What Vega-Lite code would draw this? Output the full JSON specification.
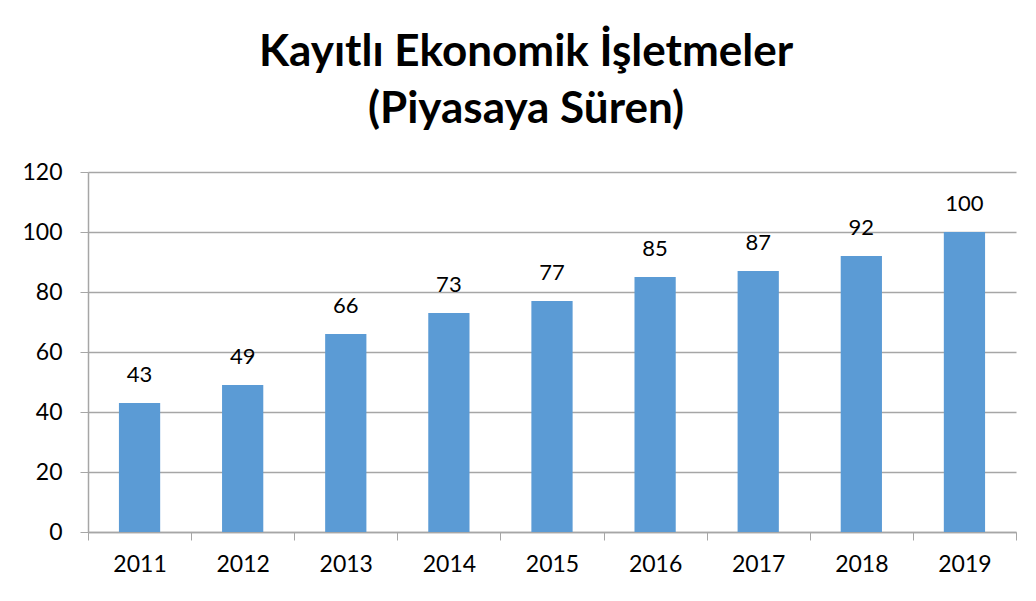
{
  "$schema": "https://vega.github.io/schema/vega-lite/v6.json",
  "autosize": "none",
  "width": 928,
  "height": 360,
  "padding": {"left": 88, "top": 172, "right": 20, "bottom": 69},
  "background": "white",
  "config": {"view": {"stroke": null}, "font": "Lato"},
  "title": {
    "text": ["Kayıtlı Ekonomik İşletmeler", "(Piyasaya Süren)"],
    "font": "Lato",
    "fontSize": 44,
    "fontWeight": "bold",
    "color": "#000000",
    "anchor": "middle",
    "frame": "group",
    "dx": -26,
    "lineHeight": 57,
    "offset": 29
  },
  "data": {
    "values": [
      {"year": "2011", "value": 43},
      {"year": "2012", "value": 49},
      {"year": "2013", "value": 66},
      {"year": "2014", "value": 73},
      {"year": "2015", "value": 77},
      {"year": "2016", "value": 85},
      {"year": "2017", "value": 87},
      {"year": "2018", "value": 92},
      {"year": "2019", "value": 100}
    ]
  },
  "encoding": {
    "x": {
      "field": "year",
      "type": "nominal",
      "sort": null,
      "scale": {"paddingInner": 0, "paddingOuter": 0},
      "axis": {
        "title": null,
        "labelAngle": 0,
        "labelFont": "Lato",
        "labelFontSize": 23,
        "labelColor": "#000000",
        "labelPadding": 13,
        "tickBand": "extent",
        "tickSize": 8,
        "tickColor": "#A6A6A6",
        "domainColor": "#A6A6A6",
        "domainWidth": 1.5,
        "grid": false
      }
    },
    "y": {
      "field": "value",
      "type": "quantitative",
      "scale": {"domain": [0, 120], "nice": false},
      "axis": {
        "title": null,
        "values": [0, 20, 40, 60, 80, 100, 120],
        "labelFont": "Lato",
        "labelFontSize": 23,
        "labelColor": "#000000",
        "labelPadding": 18,
        "tickSize": 8,
        "tickColor": "#A6A6A6",
        "domainColor": "#A6A6A6",
        "domainWidth": 1.5,
        "grid": true,
        "gridColor": "#A6A6A6",
        "gridWidth": 1.5
      }
    }
  },
  "layer": [
    {
      "mark": {"type": "bar", "color": "#5B9BD5", "width": {"band": 0.4}}
    },
    {
      "mark": {"type": "text", "font": "Lato", "fontSize": 22, "color": "#000000", "baseline": "bottom", "dy": -16},
      "encoding": {"text": {"field": "value", "type": "quantitative"}}
    }
  ]
}
